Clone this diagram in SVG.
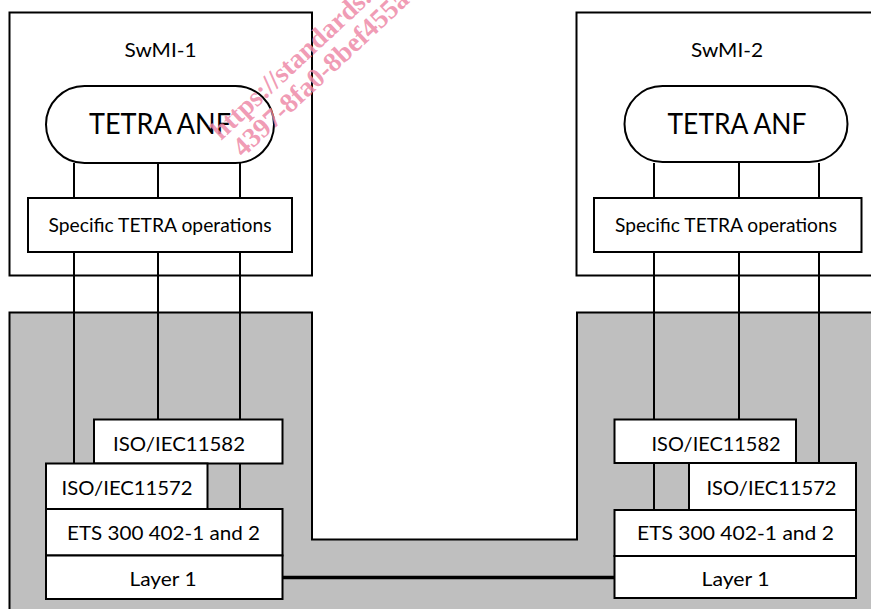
<svg xmlns="http://www.w3.org/2000/svg" width="871" height="609" viewBox="0 0 871 609">
<style>
.box{fill:#fff;stroke:#000;stroke-width:2}
.ln{stroke:#000;stroke-width:2;fill:none}
.t{font-family:Lato,"Open Sans","Liberation Sans",sans-serif;font-size:20px;fill:#000;text-anchor:middle}
.big{font-size:28px}
.wm{font-family:"Liberation Serif","DejaVu Serif",serif;font-weight:bold;font-size:27.5px;fill:#ee8aa8;fill-opacity:0.85}
</style>
<rect width="871" height="609" fill="#fff"/>
<g id="network">
<path d="M9.5,615 V312.5 H312 V539.5 H577 V312.5 H880 V615 Z" fill="#bfbfbf" stroke="#000" stroke-width="2"/>
</g>
<g id="swmi1">
<rect class="box" x="9.5" y="12.5" width="302.5" height="263"/>
<text class="t" x="160.5" y="57" textLength="72" lengthAdjust="spacingAndGlyphs">SwMI-1</text>
</g>
<g id="swmi2">
<rect class="box" x="576.5" y="12.5" width="310" height="263"/>
<text class="t" x="727" y="57" textLength="72" lengthAdjust="spacingAndGlyphs">SwMI-2</text>
</g>
<g id="connectors">
<path class="ln" d="M74,163 V198 M158,163 V198 M240,163 V198 M74,252 V463 M158,252 V419 M240,252 V419 M240,463 V509"/>
<path class="ln" d="M654,163 V198 M739,163 V198 M819,163 V198 M654,252 V419 M739,252 V419 M819,252 V463 M654,463 V510"/>
<line x1="282" y1="577.5" x2="614" y2="577.5" stroke="#000" stroke-width="3.5"/>
</g>
<g id="anf1">
<rect class="box" x="46" y="86" width="228" height="77" rx="38.5"/>
<text class="t big" x="160" y="134" textLength="142" lengthAdjust="spacingAndGlyphs">TETRA ANF</text>
</g>
<g id="anf2">
<rect class="box" x="624.5" y="86" width="223" height="76" rx="38"/>
<text class="t big" x="737" y="134" textLength="139" lengthAdjust="spacingAndGlyphs">TETRA ANF</text>
</g>
<g id="ops1">
<rect class="box" x="28" y="198" width="264" height="54"/>
<text class="t" x="160" y="232" textLength="223" lengthAdjust="spacingAndGlyphs">Specific TETRA operations</text>
</g>
<g id="ops2">
<rect class="box" x="594" y="198" width="267.5" height="54"/>
<text class="t" x="726" y="232" textLength="222" lengthAdjust="spacingAndGlyphs">Specific TETRA operations</text>
</g>
<g id="iso11582-1">
<rect class="box" x="94" y="419.5" width="188.5" height="44"/>
<text class="t" x="179" y="451" textLength="132" lengthAdjust="spacingAndGlyphs">ISO/IEC11582</text>
</g>
<g id="iso11572-1">
<rect class="box" x="46" y="463.5" width="161.5" height="45.5"/>
<text class="t" x="127" y="494.5" textLength="131" lengthAdjust="spacingAndGlyphs">ISO/IEC11572</text>
</g>
<g id="ets1">
<rect class="box" x="46" y="509" width="236.5" height="46.5"/>
<text class="t" x="163.5" y="539.5" textLength="193" lengthAdjust="spacingAndGlyphs">ETS 300 402-1 and 2</text>
</g>
<g id="layer1-1">
<rect class="box" x="46" y="555.5" width="236.5" height="43.5"/>
<text class="t" x="163" y="586" textLength="67" lengthAdjust="spacingAndGlyphs">Layer 1</text>
</g>
<g id="iso11582-2">
<rect class="box" x="614.5" y="419.5" width="181.5" height="43.5"/>
<text class="t" x="716" y="450.5" textLength="129" lengthAdjust="spacingAndGlyphs">ISO/IEC11582</text>
</g>
<g id="iso11572-2">
<rect class="box" x="689" y="463" width="167" height="47"/>
<text class="t" x="771.5" y="494.5" textLength="130" lengthAdjust="spacingAndGlyphs">ISO/IEC11572</text>
</g>
<g id="ets2">
<rect class="box" x="614.5" y="510" width="241.5" height="46"/>
<text class="t" x="735.5" y="539.5" textLength="197" lengthAdjust="spacingAndGlyphs">ETS 300 402-1 and 2</text>
</g>
<g id="layer1-2">
<rect class="box" x="614.5" y="556" width="241.5" height="42"/>
<text class="t" x="735.5" y="586" textLength="68" lengthAdjust="spacingAndGlyphs">Layer 1</text>
</g>
<g id="watermark">
<text class="wm" x="221" y="141" transform="rotate(-43 221 141)">https://standards.</text>
<text class="wm" x="243" y="158" transform="rotate(-43 243 158)">4397-8fa0-8bef455a</text>
</g>
</svg>
